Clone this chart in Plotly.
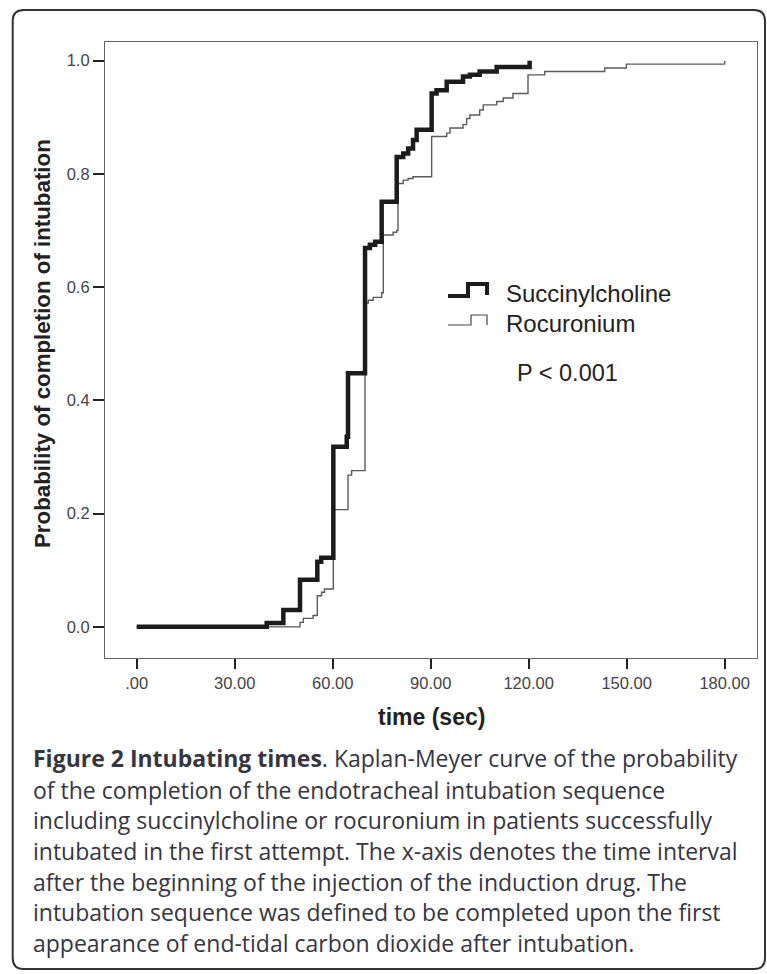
import plotly.graph_objects as go

# ---------------- data ----------------
succ_time = [0, 39.8, 44.9, 50.0, 55.3, 56.5, 60.2, 64.3, 64.7, 69.9, 71.4, 73.0,
             75.0, 79.6, 81.6, 83.1, 84.6, 85.7, 90.3, 91.8, 94.9, 99.9, 102.0,
             105.0, 110.2, 120.3]
succ_prob = [0, 0.007, 0.030, 0.083, 0.115, 0.122, 0.318, 0.336, 0.448, 0.669, 0.675, 0.680,
             0.751, 0.830, 0.836, 0.845, 0.860, 0.878, 0.942, 0.948, 0.963, 0.972, 0.975,
             0.981, 0.989, 1.0]

roc_time = [0, 50.0, 51.0, 54.0, 55.3, 56.6, 57.5, 60.2, 64.7, 65.8, 69.9, 70.9, 72.4,
            75.0, 75.5, 78.5, 79.6, 80.0, 81.6, 83.1, 84.6, 90.3, 94.9, 95.9, 99.9,
            101.0, 102.0, 105.0, 106.1, 110.2, 112.2, 115.2, 119.8, 124.9, 143.3,
            149.9, 180.0]
roc_prob = [0, 0.008, 0.015, 0.020, 0.055, 0.061, 0.067, 0.207, 0.268, 0.276, 0.572, 0.577, 0.582,
            0.590, 0.692, 0.697, 0.700, 0.783, 0.789, 0.792, 0.795, 0.866, 0.872, 0.881, 0.887,
            0.898, 0.904, 0.913, 0.922, 0.928, 0.934, 0.942, 0.975, 0.981, 0.987,
            0.994, 1.0]

x_tick_vals = [0, 30, 60, 90, 120, 150, 180]
x_tick_text = [".00", "30.00", "60.00", "90.00", "120.00", "150.00", "180.00"]
y_tick_vals = [0.0, 0.2, 0.4, 0.6, 0.8, 1.0]
y_tick_text = ["0.0", "0.2", "0.4", "0.6", "0.8", "1.0"]

series_names = ["Succinylcholine", "Rocuronium"]
p_value_text = "P < 0.001"
x_title = "time (sec)"
y_title = "Probability of completion of intubation"
caption_lines = [
    "<b>Figure 2 Intubating times</b>. Kaplan-Meyer curve of the probability",
    "of the completion of the endotracheal intubation sequence",
    "including succinylcholine or rocuronium in patients successfully",
    "intubated in the first attempt. The x-axis denotes the time interval",
    "after the beginning of the injection of the induction drug. The",
    "intubation sequence was defined to be completed upon the first",
    "appearance of end-tidal carbon dioxide after intubation.",
]

# ---------------- layout geometry ----------------
W, H = 767, 974
L, R, T, B = 105, 10, 42, 316
PW, PH = W - L - R, H - T - B


def px(x):
    return (x - L) / PW


def py(y):
    return (H - B - y) / PH


FONT = "Liberation Sans, Arial, sans-serif"

fig = go.Figure()
fig.add_trace(go.Scatter(x=roc_time, y=roc_prob, mode="lines", line_shape="hv",
                         line=dict(color="#5a5a5a", width=1.4), name=series_names[1],
                         showlegend=False))
fig.add_trace(go.Scatter(x=succ_time, y=succ_prob, mode="lines", line_shape="hv",
                         line=dict(color="#1c1c1c", width=4.5), name=series_names[0],
                         showlegend=False))

shapes = []
# legend glyphs (step symbols)
def glyph(x0, x1, x2, ylow, yhigh, yend):
    return (f"M {px(x0)},{py(ylow)} L {px(x1)},{py(ylow)} L {px(x1)},{py(yhigh)} "
            f"L {px(x2)},{py(yhigh)} L {px(x2)},{py(yend)}")

shapes.append(dict(type="path", xref="paper", yref="paper",
                   path=glyph(448, 468, 487, 296, 284, 295),
                   line=dict(color="#1c1c1c", width=4)))
shapes.append(dict(type="path", xref="paper", yref="paper",
                   path=glyph(448, 471, 487, 325, 315, 325),
                   line=dict(color="#444444", width=1.2)))

# outer rounded border
x0b, y0b, x1b, y1b, r = 12.7, 10, 765, 969, 11
border = (f"M {px(x0b + r)},{py(y0b)} L {px(x1b - r)},{py(y0b)} "
          f"Q {px(x1b)},{py(y0b)} {px(x1b)},{py(y0b + r)} "
          f"L {px(x1b)},{py(y1b - r)} Q {px(x1b)},{py(y1b)} {px(x1b - r)},{py(y1b)} "
          f"L {px(x0b + r)},{py(y1b)} Q {px(x0b)},{py(y1b)} {px(x0b)},{py(y1b - r)} "
          f"L {px(x0b)},{py(y0b + r)} Q {px(x0b)},{py(y0b)} {px(x0b + r)},{py(y0b)} Z")
shapes.append(dict(type="path", xref="paper", yref="paper", path=border,
                   line=dict(color="#333333", width=2)))

annotations = []
annotations.append(dict(text=series_names[0], x=px(504), y=py(293), xref="paper", yref="paper",
                        xanchor="left", yanchor="middle", showarrow=False,
                        font=dict(family=FONT, size=24, color="#222222")))
annotations.append(dict(text=series_names[1], x=px(504), y=py(323), xref="paper", yref="paper",
                        xanchor="left", yanchor="middle", showarrow=False,
                        font=dict(family=FONT, size=24, color="#222222")))
annotations.append(dict(text=p_value_text, x=px(515), y=py(373), xref="paper", yref="paper",
                        xanchor="left", yanchor="middle", showarrow=False,
                        font=dict(family=FONT, size=23.5, color="#222222")))

line_ys = [758, 789.5, 820, 850.5, 881.5, 912, 943]
for txt, ly in zip(caption_lines, line_ys):
    annotations.append(dict(text=txt, x=px(31), y=py(ly), xref="paper", yref="paper",
                            xanchor="left", yanchor="middle", showarrow=False,
                            font=dict(family="Open Sans, sans-serif", size=23, color="#363640")))

# axis titles as annotations for precise placement
annotations.append(dict(text=f"<b>{x_title}</b>", x=px(431), y=py(717), xref="paper", yref="paper",
                        xanchor="center", yanchor="middle", showarrow=False,
                        font=dict(family=FONT, size=23, color="#222222")))
annotations.append(dict(text=f"<b>{y_title}</b>", x=px(42), y=py(344), xref="paper", yref="paper",
                        xanchor="center", yanchor="middle", showarrow=False, textangle=-90,
                        font=dict(family=FONT, size=22.3, color="#222222")))

fig.update_layout(
    width=W, height=H,
    margin=dict(l=L, r=R, t=T, b=B),
    paper_bgcolor="white", plot_bgcolor="white",
    shapes=shapes, annotations=annotations,
    showlegend=False,
)
fig.update_xaxes(range=[-9.7, 189.9], tickvals=x_tick_vals, ticktext=x_tick_text,
                 showgrid=False, zeroline=False, showline=True, mirror=True,
                 linecolor="#666666", linewidth=1.2,
                 ticks="outside", ticklen=10, tickwidth=2, tickcolor="#222222",
                 tickfont=dict(family=FONT, size=16.5, color="#444444"))
fig.update_yaxes(range=[-0.055, 1.033], tickvals=y_tick_vals, ticktext=y_tick_text,
                 showgrid=False, zeroline=False, showline=True, mirror=True,
                 linecolor="#666666", linewidth=1.2,
                 ticks="outside", ticklen=11, tickwidth=2, tickcolor="#222222",
                 tickfont=dict(family=FONT, size=16.5, color="#444444"))

fig.write_html("out.html")
